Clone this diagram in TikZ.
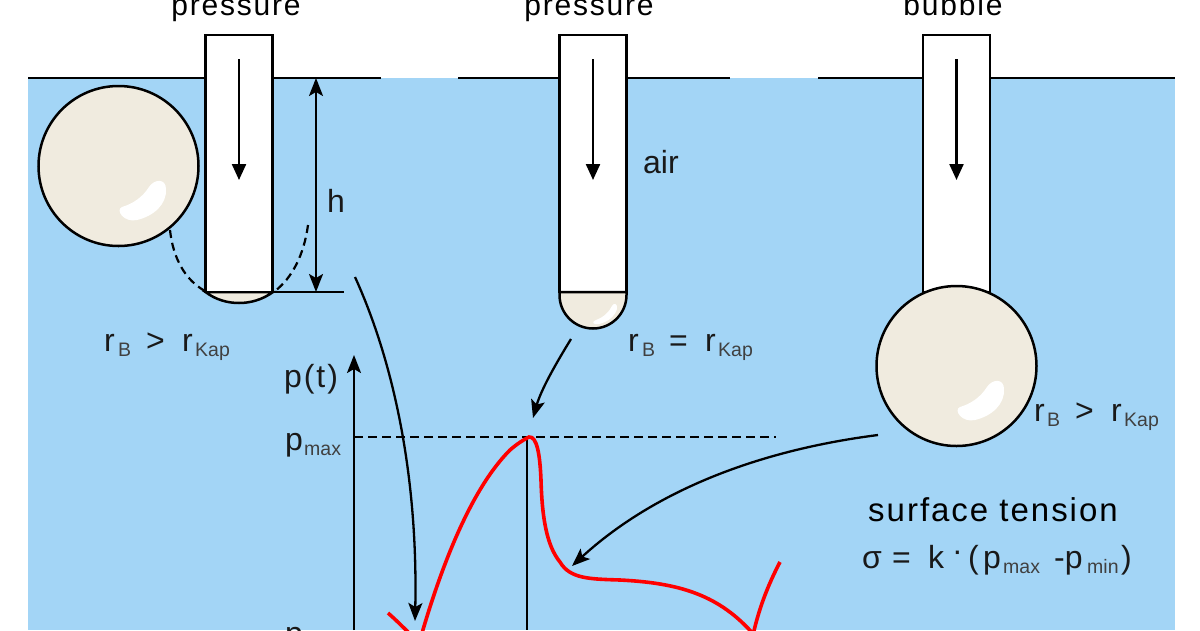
\documentclass[tikz,border=0pt]{standalone}
\usepackage{fontspec}
\setmainfont{Liberation Sans}
\newfontfamily\spaced[LetterSpace=6]{Liberation Sans}
\usetikzlibrary{arrows.meta}
\definecolor{water}{HTML}{A3D5F6}
\definecolor{bub}{HTML}{F0EBDF}
\tikzset{
 x=1pt,y=-1pt,
 lab/.style={inner sep=0pt,font=\fontsize{32}{34}\selectfont,anchor=base west,text=black!90},
 sub/.style={inner sep=0pt,font=\fontsize{19.5}{22}\selectfont,anchor=base west,text=black!75},
 head/.style={inner sep=0pt,font=\fontsize{30}{32}\selectfont\spaced,anchor=base},
 surf/.style={line width=2.8pt},
 tube/.style={draw=black,line width=2.5pt,fill=white},
 tip/.style={-{Stealth[length=18pt,width=14pt,inset=4pt]},line width=2.3pt},
 tipb/.style={-{Stealth[length=16pt,width=14pt,inset=0pt]},line width=2.3pt},
 bubble/.style={draw=black,line width=2.5pt,fill=bub},
 red/.style={draw=red,line width=3.6pt},
 gloss/.style={fill=white,draw=none},
 dsh/.style={line width=2.2pt,dash pattern=on 8pt off 5pt},
}
\newcommand{\hl}[2]{\path[gloss,shift={(#1,#2)}] (0,-3) .. controls (10,-6) and (20,-12) .. (27,-23) .. controls (32,-31) and (44,-32) .. (44,-21) .. controls (45,-6) and (32,6) .. (15,10) .. controls (2,13) and (-7,0) .. (0,-3) -- cycle;}
\begin{document}
\begin{tikzpicture}
\useasboundingbox (0,0) rectangle (1200,630);
\clip (0,0) rectangle (1200,630);
\fill[white] (0,0) rectangle (1200,630);
\fill[water] (28,78) rectangle (1175,630);
% surface
\draw[surf] (28,78) -- (381,78);
\draw[surf] (458,78) -- (730,78);
\draw[surf] (818,78) -- (1175,78);
% left tube
\path[bubble] (205.5,292) .. controls (216,300) and (228,303) .. (239,303) .. controls (250,303) and (262,300) .. (273,292) -- cycle;
\node[tube,minimum width=67pt,minimum height=257pt,inner sep=0pt] (t1) at (239,163.5) {};
\node[bubble,circle,minimum size=160pt,inner sep=0pt] (b1) at (118.5,166) {};
\hl{122}{210}
\draw[dsh] (170,230) .. controls (173,258) and (185,280) .. (205,291);
\draw[dsh] (308,225) .. controls (304,255) and (292,278) .. (275,291);
\draw[tipb] (239,59) -- (239,180);
% h
\coordinate (hl) at (273,292);
\coordinate (hr) at (344,292);
\draw[line width=2.1pt] (hl) -- (hr);
\coordinate (ht) at (316,78);
\coordinate (hb) at (316,292);
\draw[{Stealth[length=18pt,width=14pt,inset=4pt]}-{Stealth[length=18pt,width=14pt,inset=4pt]},line width=2.3pt] (ht) -- (hb);
\node[lab] (h) at (327,212) {h};
\node[lab] (r1) at (104,351) {r};
\node[sub] (r1s) at (118,356) {B};
\node[lab] (r1g) at (146,351) {>};
\node[lab] (r1k) at (182,351) {r};
\node[sub] (r1ks) at (195,356) {Kap};
\node[head] (tp1) at (236,15) {pressure};
% middle tube
\node[tube,minimum width=67pt,minimum height=257pt,inner sep=0pt] (t2) at (593,163.5) {};
\path[bubble] (559.5,292) -- (626.5,292) -- (626.5,295) arc[start angle=0,end angle=180,radius=33.5] -- cycle;
\draw[line width=2pt] (559.5,292) -- (626.5,292);
\path[gloss] (596,320) .. controls (604,317) and (609,312) .. (612,306) .. controls (614,302) and (618,304) .. (617,309) .. controls (615,316) and (608,322) .. (599,324) .. controls (593,325) and (591,322) .. (596,320) -- cycle;
\draw[tipb] (593,59) -- (593,180);
\node[head] (tp2) at (589,15) {pressure};
\node[lab] (air) at (643,173) {air};
\node[lab] (r2) at (628,351) {r};
\node[sub] (r2s) at (642,356) {B};
\node[lab] (r2g) at (669,351) {=};
\node[lab] (r2k) at (705,351) {r};
\node[sub] (r2ks) at (718,356) {Kap};
% right tube
\node[tube,minimum width=67pt,minimum height=257pt,inner sep=0pt] (t3) at (956.5,163.5) {};
\node[bubble,circle,minimum size=160pt,inner sep=0pt] (b3) at (956.5,366) {};
\hl{960}{410}
\draw[tipb] (956.5,59) -- (956.5,180);
\node[head] (tp3) at (953,15) {bubble};
\node[lab] (r3) at (1034,421) {r};
\node[sub] (r3s) at (1047,426) {B};
\node[lab] (r3g) at (1075,421) {>};
\node[lab] (r3k) at (1111,421) {r};
\node[sub] (r3ks) at (1124,426) {Kap};
% chart
\coordinate (ax0) at (354,630);
\coordinate (ax1) at (354,355);
\draw[tip] (ax0) -- (ax1);
\coordinate (pk) at (527,437);
\coordinate (pk0) at (527,630);
\draw[line width=2.1pt] (pk) -- (pk0);
\coordinate (dash0) at (354,437);
\coordinate (dash1) at (776,437);
\draw[line width=2.2pt,dash pattern=on 9pt off 5pt] (dash0) -- (dash1);
\node[lab,font=\fontsize{32}{34}\selectfont\spaced] (pt) at (284,387) {p(t)};
\node[lab] (pm) at (285,450) {p};
\node[sub] (pms) at (304,455) {max};
\node[lab] (pn) at (285,644) {p};
% red
\draw[red] (388,613) .. controls (396,620) and (402,626) .. (412,636);
\draw[red] (420,640) .. controls (440,570) and (470,490) .. (510,450) .. controls (517,444) and (523,440) .. (529,437) .. controls (537,436) and (540,455) .. (541,480) .. controls (542,515) and (546,545) .. (560,562) .. controls (570,579) and (590,579) .. (620,580) .. controls (680,583) and (720,595) .. (755,636);
\draw[red] (752,640) .. controls (758,610) and (768,585) .. (780,562);
% arrows
\coordinate (a1s) at (355,277);
\coordinate (a1e) at (415,621);
\draw[tip] (a1s) .. controls (395,365) and (418,480) .. (a1e);
\coordinate (a2s) at (571,339);
\coordinate (a2e) at (533,418);
\draw[tip] (a2s) .. controls (555,365) and (541,390) .. (a2e);
\coordinate (a3s) at (878,435);
\coordinate (a3e) at (572,566);
\draw[tip] (a3s) .. controls (760,450) and (655,490) .. (a3e);
% tension
\node[head,font=\fontsize{33}{35}\selectfont\spaced] (st) at (993,521) {surface tension};
\node[lab] (sig) at (862,568) {σ};
\node[lab] (eq) at (892,568) {=};
\node[lab] (kk) at (928,568) {k};
\node[lab] (dot) at (952,561) {·};
\node[lab] (opn) at (968,568) {(};
\node[lab] (pa) at (983,568) {p};
\node[sub] (pas) at (1003,573) {max};
\node[lab] (mi) at (1054,568) {-p};
\node[sub] (mis) at (1087,573) {min};
\node[lab] (cl) at (1121,568) {)};
\end{tikzpicture}
\end{document}
